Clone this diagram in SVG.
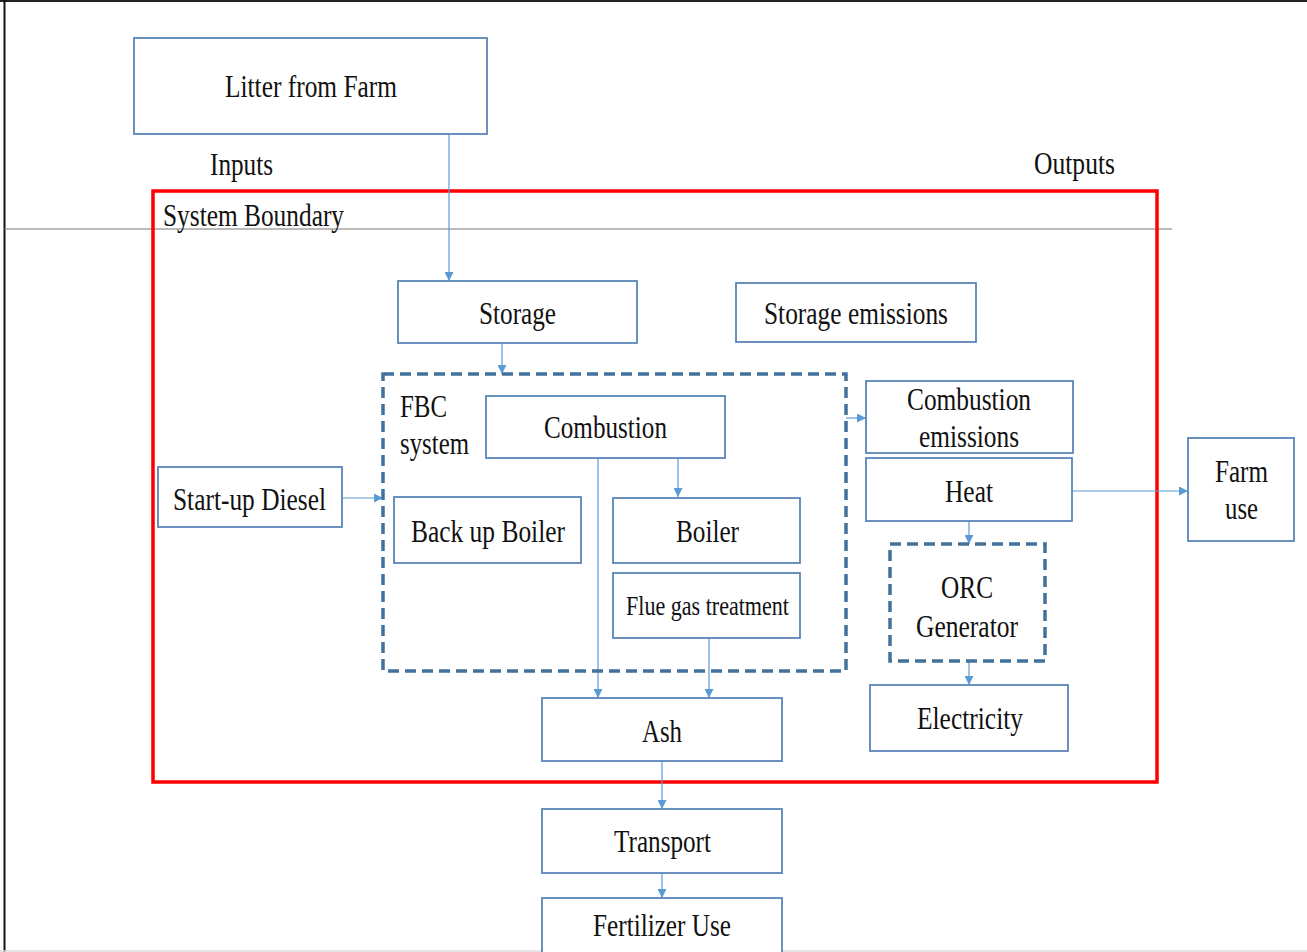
<svg xmlns="http://www.w3.org/2000/svg" width="1307" height="952" viewBox="0 0 1307 952">
<style>
.box{fill:#fff;stroke:#5a86b8;stroke-width:1.8}
.dash{fill:none;stroke:#41719c;stroke-width:3.5;stroke-dasharray:11 6}
.c{fill:none;stroke:#5b9bd5;stroke-width:1.2}
text{font-family:"Liberation Serif","Times New Roman",serif;font-size:32px;fill:#111}
.s{font-size:27px}
</style>
<defs>
<marker id="ah" viewBox="0 0 10 10" refX="10" refY="5" markerWidth="9" markerHeight="9" markerUnits="userSpaceOnUse" orient="auto">
<path d="M0,0 L10,5 L0,10 Z" fill="#5b9bd5"/>
</marker>
</defs>
<rect x="0" y="0" width="1307" height="952" fill="#fff"/>
<line x1="0" y1="1" x2="1307" y2="1" stroke="#222" stroke-width="2"/>
<line x1="4.5" y1="0" x2="4.5" y2="952" stroke="#111" stroke-width="2"/>
<line x1="0" y1="951" x2="1307" y2="951" stroke="#ddd" stroke-width="1.5"/>
<line x1="4" y1="229" x2="1172" y2="229" stroke="#777" stroke-width="1"/>

<g id="boundary">
<rect x="153" y="191" width="1004" height="591" fill="none" stroke="#ff0000" stroke-width="3.5"/>
<text x="163" y="226" textLength="181" lengthAdjust="spacingAndGlyphs">System Boundary</text>
</g>
<g id="labels">
<text x="210" y="175" textLength="63" lengthAdjust="spacingAndGlyphs">Inputs</text>
<text x="1034" y="174" textLength="81" lengthAdjust="spacingAndGlyphs">Outputs</text>
</g>

<g id="connectors">
<line class="c" x1="449" y1="134" x2="449" y2="281" marker-end="url(#ah)"/>
<line class="c" x1="502" y1="344" x2="502" y2="374" marker-end="url(#ah)"/>
<line class="c" x1="342" y1="498" x2="383" y2="498" marker-end="url(#ah)"/>
<line class="c" x1="678" y1="458" x2="678" y2="497" marker-end="url(#ah)"/>
<line class="c" x1="598" y1="458" x2="598" y2="698" marker-end="url(#ah)"/>
<line class="c" x1="709" y1="638" x2="709" y2="698" marker-end="url(#ah)"/>
<line class="c" x1="662" y1="761" x2="662" y2="809" marker-end="url(#ah)"/>
<line class="c" x1="662" y1="873" x2="662" y2="898" marker-end="url(#ah)"/>
<line class="c" x1="846" y1="418" x2="866" y2="418" marker-end="url(#ah)"/>
<line class="c" x1="1072" y1="491" x2="1188" y2="491" marker-end="url(#ah)"/>
<line class="c" x1="969" y1="521" x2="969" y2="544" marker-end="url(#ah)"/>
<line class="c" x1="969" y1="661" x2="969" y2="685" marker-end="url(#ah)"/>
</g>

<g id="litter">
<rect class="box" x="134" y="38" width="353" height="96"/>
<text x="225" y="97" textLength="172" lengthAdjust="spacingAndGlyphs">Litter from Farm</text>
</g>
<g id="storage">
<rect class="box" x="398" y="281" width="239" height="62"/>
<text x="479" y="324" textLength="77" lengthAdjust="spacingAndGlyphs">Storage</text>
</g>
<g id="storage-emissions">
<rect class="box" x="736" y="283" width="240" height="59"/>
<text x="764" y="324" textLength="184" lengthAdjust="spacingAndGlyphs">Storage emissions</text>
</g>
<g id="fbc">
<rect class="dash" x="383" y="374" width="463" height="297"/>
<text x="400" y="417" textLength="47" lengthAdjust="spacingAndGlyphs">FBC</text>
<text x="400" y="454" textLength="69" lengthAdjust="spacingAndGlyphs">system</text>
</g>
<g id="combustion">
<rect class="box" x="486" y="396" width="239" height="62"/>
<text x="544" y="438" textLength="123" lengthAdjust="spacingAndGlyphs">Combustion</text>
</g>
<g id="startup">
<rect class="box" x="158" y="467" width="184" height="60"/>
<text x="173" y="510" textLength="153" lengthAdjust="spacingAndGlyphs">Start-up Diesel</text>
</g>
<g id="backup">
<rect class="box" x="394" y="497" width="187" height="66"/>
<text x="411" y="542" textLength="154" lengthAdjust="spacingAndGlyphs">Back up Boiler</text>
</g>
<g id="boiler">
<rect class="box" x="613" y="498" width="187" height="65"/>
<text x="676" y="542" textLength="63" lengthAdjust="spacingAndGlyphs">Boiler</text>
</g>
<g id="flue">
<rect class="box" x="613" y="573" width="187" height="65"/>
<text class="s" x="626" y="615" textLength="163" lengthAdjust="spacingAndGlyphs">Flue gas treatment</text>
</g>
<g id="ash">
<rect class="box" x="542" y="698" width="240" height="63"/>
<text x="642" y="742" textLength="40" lengthAdjust="spacingAndGlyphs">Ash</text>
</g>
<g id="transport">
<rect class="box" x="542" y="809" width="240" height="64"/>
<text x="614" y="852" textLength="97" lengthAdjust="spacingAndGlyphs">Transport</text>
</g>
<g id="fertilizer">
<rect class="box" x="542" y="898" width="240" height="60"/>
<text x="593" y="936" textLength="138" lengthAdjust="spacingAndGlyphs">Fertilizer Use</text>
</g>
<g id="combustion-emissions">
<rect class="box" x="866" y="381" width="207" height="72"/>
<text x="907" y="410" textLength="124" lengthAdjust="spacingAndGlyphs">Combustion</text>
<text x="919" y="447" textLength="100" lengthAdjust="spacingAndGlyphs">emissions</text>
</g>
<g id="heat">
<rect class="box" x="866" y="458" width="206" height="63"/>
<text x="945" y="502" textLength="48" lengthAdjust="spacingAndGlyphs">Heat</text>
</g>
<g id="farm-use">
<rect class="box" x="1188" y="438" width="106" height="103"/>
<text x="1215" y="482" textLength="53" lengthAdjust="spacingAndGlyphs">Farm</text>
<text x="1225" y="519" textLength="33" lengthAdjust="spacingAndGlyphs">use</text>
</g>
<g id="orc">
<rect class="dash" x="890" y="544" width="155" height="117"/>
<text x="941" y="598" textLength="52" lengthAdjust="spacingAndGlyphs">ORC</text>
<text x="916" y="637" textLength="102" lengthAdjust="spacingAndGlyphs">Generator</text>
</g>
<g id="electricity">
<rect class="box" x="870" y="685" width="198" height="66"/>
<text x="917" y="729" textLength="106" lengthAdjust="spacingAndGlyphs">Electricity</text>
</g>
</svg>
